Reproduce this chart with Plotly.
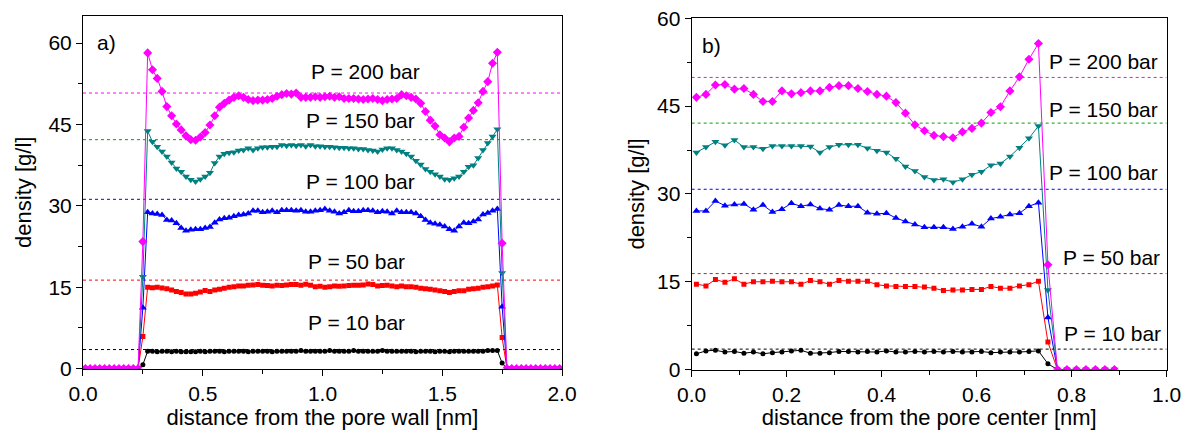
import numpy as np
import plotly.graph_objects as go

# ---------------- data: panel a) (distance from the pore wall) ----------------
# grid 0.01 .. 1.99 nm, step 0.02 ; 12 empty points on each side, wall points at 0.25 / 1.75
left_zero_count = 12
pressures = ["P = 10 bar", "P = 50 bar", "P = 100 bar", "P = 150 bar", "P = 200 bar"]

a_wall_in = [0.7, 5.9, 11.2, 16.9, 23.4]    # value at 0.25 nm
a_wall_out = [1.0, 5.7, 11.4, 17.6, 23.1]   # value at 1.75 nm

a_p10 = [3.2, 3.2, 3.1, 3.2, 3.2, 3.1, 3.2, 3.1, 3.1, 3.1,
         3.1, 3.2, 3.1, 3.2, 3.2, 3.2, 3.1, 3.2, 3.2, 3.2,
         3.2, 3.1, 3.2, 3.2, 3.2, 3.2, 3.1, 3.2, 3.2, 3.2,
         3.2, 3.2, 3.3, 3.2, 3.2, 3.2, 3.2, 3.2, 3.3, 3.2,
         3.2, 3.2, 3.2, 3.3, 3.2, 3.2, 3.2, 3.2, 3.2, 3.3,
         3.2, 3.2, 3.2, 3.2, 3.2, 3.2, 3.1, 3.2, 3.2, 3.2,
         3.1, 3.2, 3.2, 3.1, 3.2, 3.2, 3.2, 3.2, 3.2, 3.2,
         3.2, 3.3, 3.3, 3.3]
a_p50 = [15.0, 14.9, 15.0, 14.85, 14.7, 14.5, 14.2, 14.0, 13.75, 13.75,
         13.9, 14.1, 14.4, 14.2, 14.5, 14.6, 14.8, 15.0, 15.1, 15.2,
         15.2, 15.35, 15.4, 15.5, 15.35, 15.3, 15.2, 15.35, 15.3, 15.4,
         15.5, 15.5, 15.35, 15.55, 15.35, 15.1, 15.15, 15.0, 15.1, 15.2,
         15.15, 15.2, 15.3, 15.35, 15.35, 15.4, 15.6, 15.5, 15.2, 15.3,
         15.35, 15.2, 15.1, 15.2, 15.1, 15.1, 15.0, 14.8, 14.7, 14.6,
         14.5, 14.35, 14.2, 14.0, 14.2, 14.35, 14.35, 14.6, 14.7, 14.8,
         15.0, 15.1, 15.2, 15.4]
a_p100 = [28.8, 28.6, 28.5, 28.3, 27.4, 27.3, 26.8, 25.9, 25.4, 25.6,
          25.7, 25.7, 25.9, 26.1, 26.9, 27.5, 27.7, 27.8, 28.1, 28.3,
          28.4, 28.6, 29.1, 29.1, 28.8, 28.9, 29.1, 28.8, 29.2, 29.2,
          29.2, 29.1, 29.2, 28.9, 28.9, 29.1, 29.2, 29.4, 29.1, 28.9,
          28.6, 28.8, 29.2, 29.0, 29.0, 29.2, 29.2, 29.1, 28.8, 29.0,
          28.9, 28.6, 29.1, 28.8, 28.8, 28.8, 28.6, 28.1, 27.4, 26.9,
          26.7, 26.5, 26.2, 25.7, 25.4, 26.2, 26.9, 26.8, 27.1, 27.5,
          28.4, 28.7, 29.1, 29.4]
a_p150 = [43.8, 41.8, 40.9, 40.0, 39.1, 38.0, 36.9, 36.3, 35.4, 34.8,
          34.5, 34.9, 35.4, 36.1, 37.9, 39.1, 39.6, 39.8, 39.9, 40.2,
          40.3, 40.6, 40.3, 40.6, 40.8, 40.8, 40.9, 40.9, 41.2, 41.1,
          41.2, 41.1, 41.2, 41.0, 41.2, 41.0, 41.0, 40.9, 40.9, 40.8,
          40.7, 40.7, 40.6, 40.6, 40.5, 40.5, 40.3, 40.2, 40.0, 40.4,
          40.6, 40.6, 40.3, 40.0, 39.6, 39.1, 38.3, 37.6, 36.8, 36.3,
          35.8, 35.4, 34.9, 34.8, 35.1, 35.4, 36.3, 37.2, 37.5, 38.8,
          40.3, 41.6, 42.8, 44.1]
a_p200 = [58.2, 55.1, 53.5, 51.1, 48.3, 46.6, 45.1, 44.0, 42.9, 42.2,
          42.1, 42.7, 43.5, 44.9, 46.6, 48.2, 48.9, 49.5, 50.0, 50.3,
          50.0, 49.6, 49.4, 49.5, 49.5, 49.6, 49.8, 50.2, 50.5, 50.7,
          50.6, 50.8, 50.0, 50.0, 50.0, 50.1, 50.0, 50.1, 50.2, 50.0,
          50.1, 49.8, 49.8, 49.8, 49.7, 49.6, 49.7, 49.8, 49.6, 49.4,
          49.6, 49.7, 49.8, 50.5, 50.3, 50.0, 49.7, 48.9, 47.4, 45.8,
          44.7, 43.1, 42.5, 41.8, 42.5, 42.8, 44.5, 46.2, 47.6, 49.0,
          51.1, 52.9, 56.3, 58.3]
a_bulk = [3.5, 16.3, 31.2, 42.2, 50.8]

# ---------------- data: panel b) (distance from the pore center) ----------------
right_zero_count = 7
b_wall = [1.0, 4.7, 8.9, 13.6, 17.9]   # value at 0.75 nm

b_p10 = [2.7, 3.2, 3.3, 3.0, 3.1, 2.8, 3.0, 2.7, 2.9, 3.0,
         3.2, 3.3, 2.8, 2.8, 2.9, 3.1, 3.1, 3.0, 3.1, 3.0,
         3.2, 3.0, 3.0, 3.1, 3.0, 3.1, 3.0, 3.1, 3.0, 3.0,
         3.1, 2.9, 3.0, 3.0, 3.0, 3.1, 3.2]
b_p50 = [14.6, 14.3, 15.4, 14.9, 15.5, 14.6, 15.0, 15.0, 15.1, 15.0,
         15.0, 14.6, 15.2, 15.0, 14.6, 15.2, 15.1, 15.1, 15.1, 14.5,
         14.3, 14.2, 14.2, 14.2, 14.1, 13.9, 13.5, 13.6, 13.6, 13.7,
         13.7, 14.2, 13.9, 13.9, 14.3, 14.5, 15.1]
b_p100 = [27.1, 27.1, 28.8, 28.0, 28.2, 28.3, 27.3, 28.1, 26.9, 27.4,
          28.4, 27.9, 28.2, 27.5, 27.3, 28.1, 27.9, 27.9, 26.8, 26.6,
          26.7, 25.9, 25.3, 24.8, 24.3, 24.3, 24.3, 24.0, 24.4, 24.9,
          24.4, 25.8, 26.1, 26.5, 26.7, 27.9, 28.5]
b_p150 = [37.1, 38.0, 38.9, 38.3, 39.2, 38.0, 38.0, 37.7, 38.2, 38.2,
          38.2, 38.2, 38.1, 37.1, 38.0, 38.4, 38.4, 38.4, 37.8, 37.4,
          37.1, 36.0, 34.7, 33.9, 32.9, 32.4, 32.5, 32.0, 32.5, 33.3,
          33.8, 34.9, 35.2, 36.4, 37.9, 39.5, 41.6]
b_p200 = [46.5, 47.0, 48.6, 48.7, 47.9, 48.0, 47.0, 45.8, 45.8, 47.6,
          47.1, 47.3, 47.6, 47.6, 48.2, 48.5, 48.5, 48.0, 47.5, 47.0,
          46.7, 45.6, 43.8, 41.8, 40.8, 40.0, 39.8, 39.6, 40.6, 41.2,
          42.1, 43.9, 44.9, 47.6, 50.0, 53.0, 55.7]
b_bulk = [3.5, 16.4, 30.8, 42.1, 49.9]

colors = ["#000000", "#FF0000", "#0000FF", "#008080", "#FF00FF"]
bulk_colors = ["#000000", "#FF0000", "#0000FF", "#00A000", "#FF00FF"]
symbols = ["circle", "square", "triangle-up", "triangle-down", "diamond"]
msizes = [5, 5, 7, 7, 7]

a_profiles = [a_p10, a_p50, a_p100, a_p150, a_p200]
b_profiles = [b_p10, b_p50, b_p100, b_p150, b_p200]

fig = go.Figure()

# bulk reference lines
for i in range(5):
    fig.add_trace(go.Scatter(x=[0, 2], y=[a_bulk[i]] * 2, mode="lines",
                             line=dict(color=bulk_colors[i], width=1, dash="dot"),
                             xaxis="x", yaxis="y", hoverinfo="skip"))
    fig.add_trace(go.Scatter(x=[0, 1], y=[b_bulk[i]] * 2, mode="lines",
                             line=dict(color=bulk_colors[i], width=1, dash="dot"),
                             xaxis="x2", yaxis="y2", hoverinfo="skip"))

for i in range(5):
    ya = [0.0] * left_zero_count + [a_wall_in[i]] + a_profiles[i] + [a_wall_out[i]] + [0.0] * left_zero_count
    xa = np.round(0.01 + 0.02 * np.arange(len(ya)), 2)
    fig.add_trace(go.Scatter(x=xa, y=ya, mode="lines+markers",
                             line=dict(color=colors[i], width=1),
                             marker=dict(symbol=symbols[i], size=msizes[i], color=colors[i]),
                             xaxis="x", yaxis="y", name=pressures[i]))
    yb = b_profiles[i] + [b_wall[i]] + [0.0] * right_zero_count
    xb = np.round(0.01 + 0.02 * np.arange(len(yb)), 2)
    fig.add_trace(go.Scatter(x=xb, y=yb, mode="lines+markers",
                             line=dict(color=colors[i], width=1),
                             marker=dict(symbol=symbols[i], size=msizes[i], color=colors[i]),
                             xaxis="x2", yaxis="y2", name=pressures[i]))

FONT = "Liberation Sans, Arial, sans-serif"
tickfont = dict(family=FONT, size=21, color="black")
titlefont = dict(family=FONT, size=22, color="black")

axis_common = dict(showline=True, linecolor="black", linewidth=1, mirror=True,
                   ticks="outside", ticklen=6, tickcolor="black", showgrid=False,
                   zeroline=False, tickfont=tickfont, automargin=False,
                   ticklabeloverflow="allow")

fig.update_layout(
    width=1181, height=422, margin=dict(l=0, r=0, t=0, b=0, autoexpand=False),
    paper_bgcolor="white", plot_bgcolor="white", showlegend=False,
    xaxis=dict(domain=[0.0635, 0.4691], range=[0, 2], tickvals=[0, 0.5, 1.0, 1.5, 2.0],
               tickformat=".1f", minor=dict(dtick=0.25, ticklen=4, ticks="outside", tickcolor="black"),
               title=dict(text="distance from the pore wall [nm]", font=titlefont, standoff=4),
               anchor="y", **axis_common),
    yaxis=dict(domain=[0.1457, 0.9810], range=[0, 65], tickvals=[0, 15, 30, 45, 60],
               minor=dict(dtick=7.5, ticklen=4, ticks="outside", tickcolor="black"),
               title=dict(text="density [g/l]", font=titlefont, standoff=10),
               anchor="x", **axis_common),
    xaxis2=dict(domain=[0.5789, 0.9811], range=[0, 1], tickvals=[0, 0.2, 0.4, 0.6, 0.8, 1.0],
                tickformat=".1f", minor=dict(dtick=0.1, ticklen=4, ticks="outside", tickcolor="black"),
                title=dict(text="distance from the pore center [nm]", font=titlefont, standoff=4),
                anchor="y2", **axis_common),
    yaxis2=dict(domain=[0.1431, 0.9756], range=[0, 60], tickvals=[0, 15, 30, 45, 60],
                minor=dict(dtick=7.5, ticklen=4, ticks="outside", tickcolor="black"),
                title=dict(text="density [g/l]", font=titlefont, standoff=6),
                anchor="x2", **axis_common),
)

annfont = dict(family=FONT, size=21, color="black")
a_label_pos = [(1.144, 8.4), (1.144, 19.65), (1.157, 34.4), (1.157, 45.7), (1.18, 54.7)]
b_label_pos = [(0.886, 6.25), (0.884, 19.1), (0.867, 33.6), (0.867, 44.5), (0.867, 52.7)]
for i in range(5):
    fig.add_annotation(x=a_label_pos[i][0], y=a_label_pos[i][1], xref="x", yref="y",
                       text=pressures[i], showarrow=False, font=annfont)
    fig.add_annotation(x=b_label_pos[i][0], y=b_label_pos[i][1], xref="x2", yref="y2",
                       text=pressures[i], showarrow=False, font=annfont)

fig.add_annotation(x=0.1, y=60.2, xref="x", yref="y", text="a)", showarrow=False, font=annfont)
fig.add_annotation(x=0.041, y=55.4, xref="x2", yref="y2", text="b)", showarrow=False, font=annfont)

fig.write_html("out.html")
